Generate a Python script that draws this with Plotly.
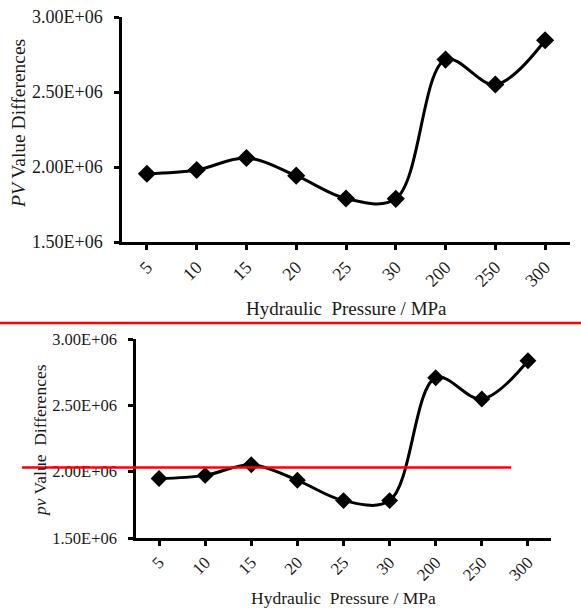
import plotly.graph_objects as go

# ---- data ----
pressure_labels = ["5", "10", "15", "20", "25", "30", "200", "250", "300"]
pv_upper = [1.955e6, 1.980e6, 2.060e6, 1.942e6, 1.790e6, 1.788e6, 2.716e6, 2.550e6, 2.845e6]
pv_lower = [1.948e6, 1.972e6, 2.052e6, 1.935e6, 1.782e6, 1.782e6, 2.708e6, 2.548e6, 2.836e6]
y_tick_vals = [1.5e6, 2.0e6, 2.5e6, 3.0e6]
y_tick_text = ["1.50E+06", "2.00E+06", "2.50E+06", "3.00E+06"]

W, H = 581, 608
FONT = "Liberation Serif, Times New Roman, serif"
TXT = "#1a1a1a"

def px(x):
    return x / W

def py(y):
    return 1 - y / H

fig = go.Figure()

line_style = dict(color="black", width=3, shape="spline", smoothing=1.0)

fig.add_trace(go.Scatter(
    x=pressure_labels, y=pv_upper, mode="lines+markers",
    line=line_style,
    marker=dict(symbol="diamond", size=14, color="black"),
    xaxis="x", yaxis="y", showlegend=False, cliponaxis=False))

fig.add_trace(go.Scatter(
    x=pressure_labels, y=pv_lower, mode="lines+markers",
    line=line_style,
    marker=dict(symbol="diamond", size=13, color="black"),
    xaxis="x2", yaxis="y2", showlegend=False, cliponaxis=False))

def xaxis(domain, anchor, size):
    return dict(domain=domain, anchor=anchor, type="category",
                range=[-0.5, len(pressure_labels) - 0.5],
                automargin=False,
                showgrid=False, zeroline=False, showline=True,
                linecolor="black", linewidth=2.5,
                ticks="outside", tickcolor="black", tickwidth=2.5, ticklen=5,
                tickangle=-45, tickfont=dict(family=FONT, size=size, color=TXT))

def yaxis(domain, anchor, size):
    return dict(domain=domain, anchor=anchor, range=[1.5e6, 3.0e6],
                automargin=False,
                tickvals=y_tick_vals, ticktext=y_tick_text,
                showgrid=False, zeroline=False, showline=True,
                linecolor="black", linewidth=2.5,
                ticks="outside", tickcolor="black", tickwidth=2.5, ticklen=5,
                ticklabelstandoff=8,
                tickfont=dict(family=FONT, size=size, color=TXT))

fig.update_layout(
    width=W, height=H,
    margin=dict(l=0, r=0, t=0, b=0, autoexpand=False),
    paper_bgcolor="white", plot_bgcolor="white",
    xaxis=xaxis([px(122), px(570)], "y", 18),
    yaxis=yaxis([py(242), py(17)], "x", 18),
    xaxis2=xaxis([px(136), px(551)], "y2", 17),
    yaxis2=yaxis([py(538), py(339)], "x2", 16.5),
)

annos = [
    dict(text="Hydraulic\u00a0 Pressure / MPa", x=px(346), y=py(308),
         font=dict(family=FONT, size=19, color=TXT)),
    dict(text="<i>PV</i> Value Differences", x=px(18), y=py(124), textangle=-90,
         font=dict(family=FONT, size=19.5, color=TXT)),
    dict(text="Hydraulic\u00a0 Pressure / MPa", x=px(343), y=py(598),
         font=dict(family=FONT, size=17.5, color=TXT)),
    dict(text="<i>pv</i> Value\u00a0 Differences", x=px(40), y=py(440), textangle=-90,
         font=dict(family=FONT, size=17.5, color=TXT)),
]
for a in annos:
    fig.add_annotation(xref="paper", yref="paper", showarrow=False,
                       xanchor="center", yanchor="middle", **a)

# red separator lines
fig.add_shape(type="line", xref="paper", yref="paper",
              x0=0, x1=1, y0=py(323), y1=py(323),
              line=dict(color="red", width=2.5))
fig.add_shape(type="line", xref="paper", yref="paper",
              x0=px(22), x1=px(511), y0=py(467.5), y1=py(467.5),
              line=dict(color="red", width=2.5))

fig.write_html("out.html")
